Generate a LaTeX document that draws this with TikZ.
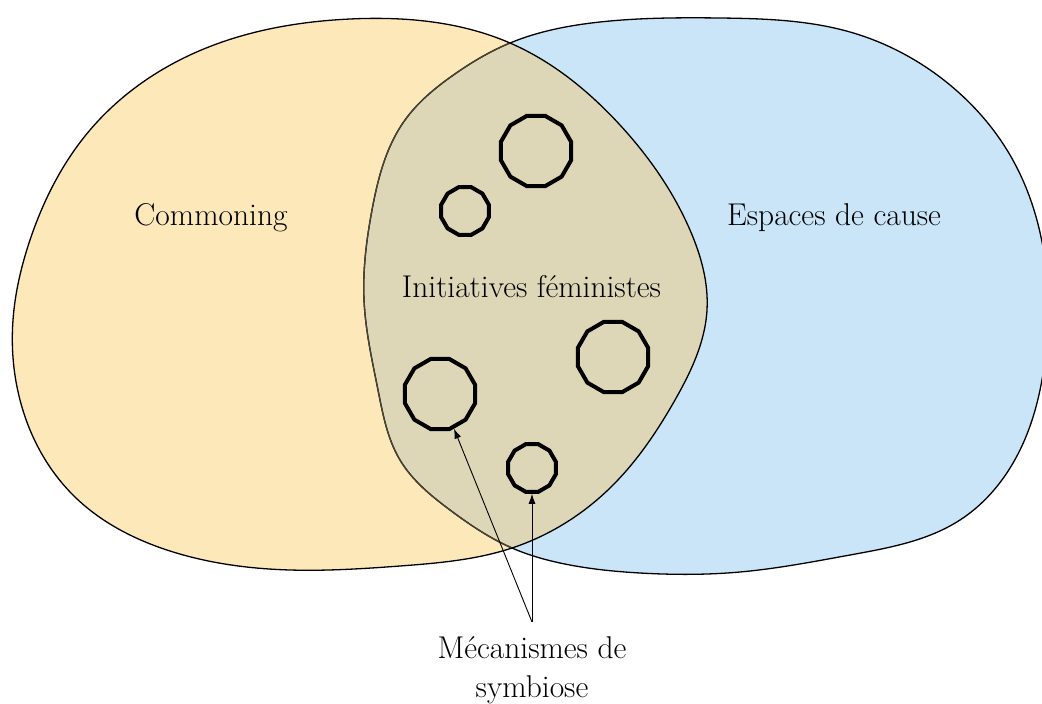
\documentclass[tikz,border=0pt]{standalone}
\usepackage{fontspec}
\usetikzlibrary{shapes.geometric,arrows.meta,hobby}
\definecolor{orangefill}{HTML}{FDE8B9}
\definecolor{bluefill}{HTML}{C9E5F7}
\definecolor{lensfill}{HTML}{DDD6B7}
\definecolor{lensline}{HTML}{4A4434}
\def\orangepts{(350,19) .. (510,43) .. (620,125) .. (690,230) .. (707,310) .. (675,400) .. (610,488) .. (512,548) .. (400,566) .. (290,570) .. (170,551) .. (75,497) .. (20,400) .. (13,320) .. (30,240) .. (90,130) .. (190,55)}
\def\bluepts{(510,43) .. (600,22) .. (720,18) .. (850,32) .. (950,85) .. (1010,155) .. (1045,260) .. (1045,360) .. (1020,450) .. (960,520) .. (850,555) .. (740,572) .. (640,573) .. (560,563) .. (512,548) .. (450,510) .. (400,460) .. (378,390) .. (364,300) .. (372,210) .. (405,120) .. (452,76)}
\begin{document}
\begin{tikzpicture}[x=1pt,y=-1pt,
  blob/.style={use Hobby shortcut, closed=true},
  blobline/.style={line width=1.3pt},
  octo/.style={regular polygon, regular polygon sides=12, draw=black, line width=4pt, inner sep=0pt},
  bigoct/.style={octo, minimum size=72.5pt},
  smalloct/.style={octo, minimum size=49.2pt},
  lbl/.style={inner sep=0pt, font=\fontsize{31.5}{39}\selectfont},
  conn/.style={line width=0.9pt, -{Latex[length=10pt,width=7pt]}}]
\clip (0,0) rectangle (1042,704);
\fill[blob, orangefill] \orangepts;
\fill[blob, bluefill] \bluepts;
\begin{scope}
  \clip[blob] \orangepts;
  \fill[blob, lensfill] \bluepts;
\end{scope}
\draw[blob, blobline, black] \bluepts;
\begin{scope}
  \clip[blob] \orangepts;
  \draw[blob, blobline, lensline] \bluepts;
\end{scope}
\draw[blob, blobline, black] \orangepts;

\node[bigoct] (o1) at (536,151) {};
\node[smalloct] (o2) at (465,211) {};
\node[bigoct] (o3) at (613,357) {};
\node[bigoct] (o4) at (440,394) {};
\node[smalloct] (o5) at (532,468) {};

\node[lbl, anchor=base] (commoning) at (211,225) {Commoning};
\node[lbl, anchor=base] (espaces) at (834,225) {Espaces de cause};
\node[lbl, anchor=base] (initiatives) at (531.5,297) {Initiatives féministes};
\node[lbl, anchor=north, align=center] (meca) at (532,636) {Mécanismes de\\symbiose};
\coordinate (fork) at (532,622);
\draw[conn] (fork) -- (o4);
\draw[conn] (fork) -- (o5);
\end{tikzpicture}
\end{document}
